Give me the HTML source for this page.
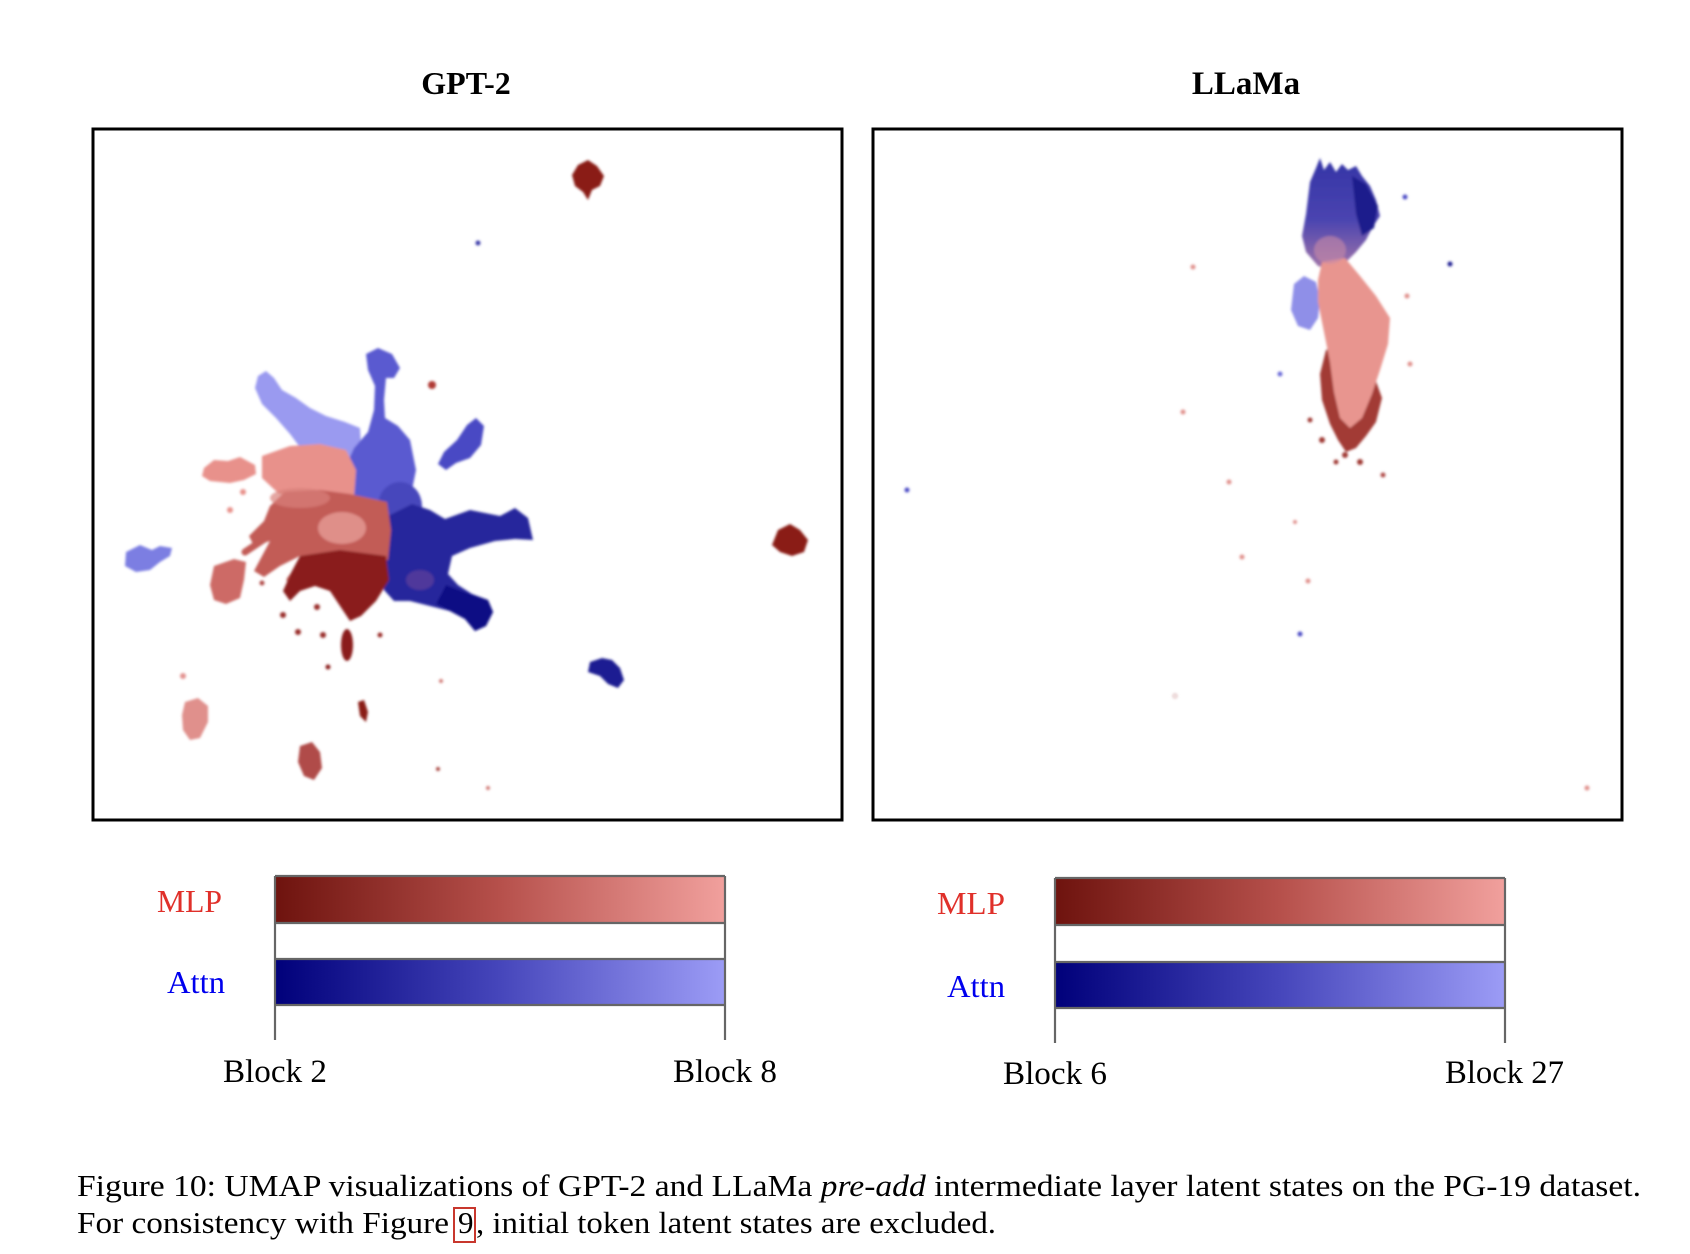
<!DOCTYPE html>
<html><head><meta charset="utf-8"><style>
html,body{margin:0;padding:0;background:#fff;}
svg{display:block;}
</style></head><body>
<svg width="1690" height="1254" viewBox="0 0 1690 1254" xmlns="http://www.w3.org/2000/svg">
<defs>
<linearGradient id="gm" x1="0" x2="1" y1="0" y2="0">
<stop offset="0" stop-color="#6e130e"/><stop offset="0.5" stop-color="#b6504b"/><stop offset="1" stop-color="#f1a09d"/>
</linearGradient>
<linearGradient id="ga" x1="0" x2="1" y1="0" y2="0">
<stop offset="0" stop-color="#00007a"/><stop offset="0.5" stop-color="#4646bb"/><stop offset="1" stop-color="#9c9cf6"/>
</linearGradient>
<linearGradient id="lcol" x1="0" x2="0" y1="0" y2="1">
<stop offset="0" stop-color="#3434a6"/><stop offset="0.55" stop-color="#4a44b0"/><stop offset="1" stop-color="#a476a8"/>
</linearGradient>
<filter id="bl" x="-20%" y="-20%" width="140%" height="140%"><feGaussianBlur stdDeviation="1.3"/></filter>
</defs>
<rect width="1690" height="1254" fill="#fff"/>

<!-- Titles -->
<text x="466" y="94" font-family="Liberation Serif, serif" font-weight="bold" font-size="32" text-anchor="middle">GPT-2</text>
<text x="1246" y="94" font-family="Liberation Serif, serif" font-weight="bold" font-size="33" text-anchor="middle">LLaMa</text>

<!-- GPT-2 scatter -->
<g filter="url(#bl)">
<path d="M578,165 L588,160 L597,166 L604,176 L600,186 L592,190 L588,200 L583,192 L575,186 L572,175 Z" fill="#8a1c18"/>
<circle cx="478" cy="243" r="2.5" fill="#3a3aa8"/>
<path d="M778,530 L790,524 L800,530 L808,540 L804,552 L792,556 L780,552 L772,545 Z" fill="#8a1c18"/>
<path d="M590,662 L602,658 L612,660 L620,668 L624,680 L618,688 L608,684 L600,676 L588,672 Z" fill="#1e1e92"/>
<path d="M185,702 L198,698 L208,706 L208,722 L200,738 L190,740 L183,730 L182,715 Z" fill="#e0908c"/>
<path d="M300,746 L312,742 L320,752 L322,768 L314,780 L304,776 L298,762 Z" fill="#b04c48"/>
<path d="M358,702 L364,700 L368,712 L366,722 L360,716 Z" fill="#8a1c18"/>
<circle cx="183" cy="676" r="3" fill="#e39390"/>
<circle cx="441" cy="681" r="2" fill="#d07a76"/>
<circle cx="438" cy="769" r="2" fill="#a84440"/>
<circle cx="488" cy="788" r="2" fill="#d07a76"/>

<path d="M126,552 L140,545 L152,550 L160,546 L172,548 L170,556 L160,562 L150,570 L136,572 L125,566 Z" fill="#7c7ee2"/>
<path d="M204,468 L214,460 L228,461 L240,457 L255,465 L256,474 L244,480 L230,483 L210,481 L202,476 Z" fill="#e8918b"/>
<!-- lavender arm (wider) -->
<path d="M258,376 L266,371 L274,378 L282,390 L296,398 L310,408 L326,416 L345,422 L360,428 L362,458 L340,466 L318,460 L302,450 L290,434 L276,418 L262,404 L255,388 Z" fill="#9a9af0"/>
<!-- blue vertical arm widening -->
<path d="M366,354 L378,348 L392,354 L400,368 L394,378 L386,378 L384,400 L385,418 L398,426 L410,440 L416,470 L410,500 L386,506 L360,500 L346,488 L346,466 L354,448 L368,432 L374,410 L375,386 L368,370 Z" fill="#5a5ad0"/>
<path d="M476,418 L484,426 L481,445 L470,458 L456,463 L446,470 L438,464 L444,452 L457,440 L467,425 Z" fill="#4a4ac4"/>
<ellipse cx="400" cy="506" rx="22" ry="24" fill="#4646bc"/>
<!-- dark blue right -->
<path d="M388,516 L412,504 L430,510 L445,519 L470,510 L500,516 L515,508 L528,518 L533,540 L515,539 L495,541 L470,548 L452,556 L448,574 L458,585 L472,594 L488,600 L493,612 L486,626 L475,631 L465,619 L450,611 L430,606 L410,601 L394,601 L384,590 L381,560 L384,535 Z" fill="#26269c"/>
<path d="M446,585 L470,594 L488,600 L493,612 L486,626 L475,631 L465,619 L450,611 L436,604 Z" fill="#0c0c84"/>
<ellipse cx="420" cy="580" rx="14" ry="10" fill="#7a4a9a" opacity="0.5"/>
<!-- pink big -->
<path d="M262,456 L290,446 L320,444 L346,450 L356,470 L354,498 L330,504 L300,501 L278,493 L262,478 Z" fill="#e8918b"/>
<!-- mid red -->
<path d="M285,492 L320,490 L350,494 L387,502 L391,530 L388,560 L360,566 L330,561 L300,556 L280,566 L264,577 L254,571 L262,556 L270,541 L254,546 L249,536 L264,521 L270,506 Z" fill="#c25c56"/>
<path d="M300,508 L260,535 M290,522 L245,552 M305,530 L268,566 M320,540 L290,580" stroke="#c25c56" stroke-width="7" stroke-linecap="round"/>
<ellipse cx="342" cy="528" rx="24" ry="16" fill="#e69c96" opacity="0.8"/>
<ellipse cx="300" cy="498" rx="30" ry="10" fill="#d9807a" opacity="0.7"/>
<!-- dark red -->
<path d="M300,556 L340,550 L386,556 L389,580 L376,601 L361,616 L350,621 L340,606 L330,591 L315,586 L300,591 L290,601 L283,591 L292,571 Z" fill="#8a1e1a"/>
<ellipse cx="347" cy="645" rx="6" ry="16" fill="#8a1e1a"/>
<circle cx="283" cy="615" r="3" fill="#9a2e2a"/>
<circle cx="317" cy="607" r="3" fill="#9a2e2a"/>
<circle cx="298" cy="632" r="3" fill="#9a2e2a"/>
<circle cx="323" cy="635" r="3" fill="#9a2e2a"/>
<circle cx="380" cy="635" r="2.5" fill="#9a2e2a"/>
<circle cx="328" cy="667" r="2.5" fill="#8a1e1a"/>
<circle cx="262" cy="583" r="2.5" fill="#b04c48"/>
<circle cx="243" cy="492" r="3" fill="#e8918b"/>
<circle cx="230" cy="510" r="3" fill="#e8918b"/>
<circle cx="432" cy="385" r="4" fill="#b03a36"/>
<path d="M214,566 L234,559 L246,562 L244,580 L240,598 L226,604 L214,600 L210,585 Z" fill="#cd6b66"/>
</g>

<!-- LLaMa scatter -->
<g filter="url(#bl)">
<path d="M1310,182 L1316,168 L1320,158 L1324,170 L1330,162 L1336,172 L1342,164 L1348,170 L1356,166 L1362,176 L1370,186 L1376,200 L1380,216 L1372,228 L1366,240 L1356,252 L1346,262 L1332,270 L1318,266 L1306,252 L1302,236 L1306,214 L1308,198 Z" fill="url(#lcol)"/>
<path d="M1352,176 L1366,184 L1378,206 L1374,228 L1362,236 L1356,214 Z" fill="#1c1c8c"/>
<path d="M1294,284 L1304,276 L1316,282 L1320,300 L1318,318 L1310,330 L1298,326 L1291,310 Z" fill="#8f8fe8"/>
<path d="M1326,350 L1340,345 L1372,370 L1382,398 L1376,422 L1366,436 L1356,448 L1346,452 L1338,440 L1330,424 L1322,400 L1320,374 Z" fill="#a23a36"/>
<path d="M1322,262 L1345,258 L1360,276 L1376,296 L1390,318 L1388,344 L1380,370 L1372,394 L1362,418 L1350,428 L1340,418 L1334,392 L1330,362 L1324,332 L1318,302 L1318,280 Z" fill="#e8958f"/>
<ellipse cx="1330" cy="250" rx="16" ry="14" fill="#c88aa6" opacity="0.6"/>
<circle cx="1322" cy="440" r="3" fill="#a03a36"/>
<circle cx="1345" cy="455" r="3" fill="#a03a36"/>
<circle cx="1336" cy="462" r="2.5" fill="#a03a36"/>
<circle cx="1360" cy="462" r="3" fill="#a03a36"/>
<circle cx="1383" cy="475" r="2.5" fill="#b04c48"/>
<circle cx="1310" cy="420" r="2.5" fill="#a03a36"/>
<circle cx="1193" cy="267" r="2.5" fill="#e0908c"/>
<circle cx="1450" cy="264" r="2.5" fill="#1e1e92"/>
<circle cx="1405" cy="197" r="2.5" fill="#4a4ac4"/>
<circle cx="1183" cy="412" r="2.5" fill="#e0908c"/>
<circle cx="1229" cy="482" r="2.5" fill="#e0908c"/>
<circle cx="1295" cy="522" r="2" fill="#e0908c"/>
<circle cx="1242" cy="557" r="2.5" fill="#e0908c"/>
<circle cx="1308" cy="581" r="2.5" fill="#e0908c"/>
<circle cx="1300" cy="634" r="2.5" fill="#4a4ac4"/>
<circle cx="1175" cy="696" r="2" fill="none" stroke="#d0a0a0" stroke-width="1"/>
<circle cx="907" cy="490" r="2.5" fill="#4a4ac4"/>
<circle cx="1587" cy="788" r="2.5" fill="#e0908c"/>
<circle cx="1410" cy="364" r="2.5" fill="#e0908c"/>
<circle cx="1407" cy="296" r="2.5" fill="#e0908c"/>
<circle cx="1280" cy="374" r="2.5" fill="#6a6ad8"/>
</g>

<!-- Frames -->
<rect x="93" y="129" width="749" height="691" fill="none" stroke="#000" stroke-width="3"/>
<rect x="873" y="129" width="749" height="691" fill="none" stroke="#000" stroke-width="3"/>

<!-- GPT-2 colorbar -->
<rect x="275" y="877" width="450" height="46" fill="url(#gm)"/>
<rect x="275" y="959" width="450" height="46" fill="url(#ga)"/>
<g stroke="#666" stroke-width="2.2" fill="none">
<line x1="275" y1="876" x2="275" y2="1040"/>
<line x1="725" y1="876" x2="725" y2="1040"/>
<line x1="275" y1="876" x2="725" y2="876"/>
<line x1="275" y1="923" x2="725" y2="923"/>
<line x1="275" y1="959" x2="725" y2="959"/>
<line x1="275" y1="1005" x2="725" y2="1005"/>
</g>
<text x="157" y="912" font-family="Liberation Serif, serif" font-size="32" fill="#e0302a" textLength="65" lengthAdjust="spacingAndGlyphs">MLP</text>
<text x="167" y="993" font-family="Liberation Serif, serif" font-size="32" fill="#0000ee" textLength="58" lengthAdjust="spacingAndGlyphs">Attn</text>
<text x="223" y="1082" font-family="Liberation Serif, serif" font-size="33" fill="#000" textLength="104" lengthAdjust="spacingAndGlyphs">Block 2</text>
<text x="673" y="1082" font-family="Liberation Serif, serif" font-size="33" fill="#000" textLength="104" lengthAdjust="spacingAndGlyphs">Block 8</text>

<!-- LLaMa colorbar -->
<rect x="1055" y="879" width="450" height="46" fill="url(#gm)"/>
<rect x="1055" y="962" width="450" height="46" fill="url(#ga)"/>
<g stroke="#666" stroke-width="2.2" fill="none">
<line x1="1055" y1="878" x2="1055" y2="1043"/>
<line x1="1505" y1="878" x2="1505" y2="1043"/>
<line x1="1055" y1="878" x2="1505" y2="878"/>
<line x1="1055" y1="925" x2="1505" y2="925"/>
<line x1="1055" y1="962" x2="1505" y2="962"/>
<line x1="1055" y1="1008" x2="1505" y2="1008"/>
</g>
<text x="937" y="914" font-family="Liberation Serif, serif" font-size="32" fill="#e0302a" textLength="68" lengthAdjust="spacingAndGlyphs">MLP</text>
<text x="947" y="997" font-family="Liberation Serif, serif" font-size="32" fill="#0000ee" textLength="58" lengthAdjust="spacingAndGlyphs">Attn</text>
<text x="1003" y="1084" font-family="Liberation Serif, serif" font-size="33" fill="#000" textLength="104" lengthAdjust="spacingAndGlyphs">Block 6</text>
<text x="1445" y="1083" font-family="Liberation Serif, serif" font-size="33" fill="#000" textLength="119" lengthAdjust="spacingAndGlyphs">Block 27</text>

<!-- Caption -->
<text x="77" y="1196" font-family="Liberation Serif, serif" font-size="31" fill="#000" textLength="1564" lengthAdjust="spacingAndGlyphs">Figure 10: UMAP visualizations of GPT-2 and LLaMa <tspan font-style="italic">pre-add</tspan> intermediate layer latent states on the PG-19 dataset.</text>
<text x="77" y="1233" font-family="Liberation Serif, serif" font-size="31" fill="#000" textLength="372" lengthAdjust="spacingAndGlyphs">For consistency with Figure</text>
<text x="458" y="1233" font-family="Liberation Serif, serif" font-size="31" fill="#000">9</text>
<text x="476" y="1233" font-family="Liberation Serif, serif" font-size="31" fill="#000" textLength="520" lengthAdjust="spacingAndGlyphs">, initial token latent states are excluded.</text>
<rect x="454" y="1208" width="21" height="34" fill="none" stroke="#c8372d" stroke-width="2"/>
</svg>
</body></html>
